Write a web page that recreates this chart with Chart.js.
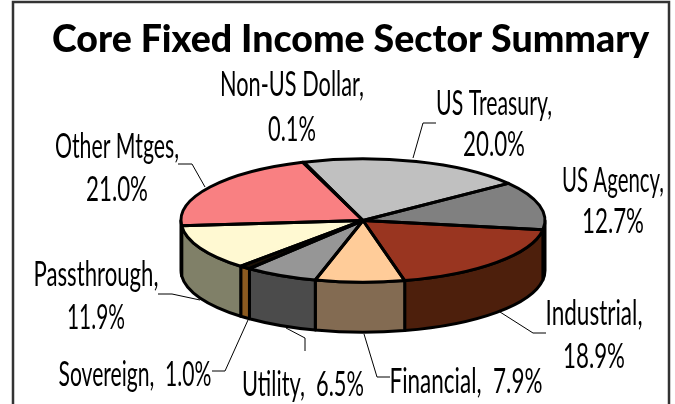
<!DOCTYPE html>
<html>
<head>
<meta charset="utf-8">
<style>html,body{margin:0;padding:0;background:#fff;overflow:hidden}canvas{display:block}</style>
<script src="https://cdn.jsdelivr.net/npm/chart.js@4"></script>
</head>
<body>
<canvas id="c" width="675" height="404"></canvas>
<script>
const chartTitle = 'Core Fixed Income Sector Summary';
const categories = ['US Treasury','US Agency','Industrial','Financial','Utility','Sovereign','Passthrough','Other Mtges','Non-US Dollar'];
const values = [20.0,12.7,18.9,7.9,6.5,1.0,11.9,21.0,0.1];
const topColors = ['#C0C0C0','#808080','#993520','#FFCC99','#969696','#1A1006','#FFF9D2','#F98082','#A0A0A0'];
const wallColors = ['#606060','#404040','#4D1F0C','#836B52','#4B4B4B','#8B5A20','#808068','#7C4041','#505050'];

// Annotation layout, per category: text box centre x, widths, line centre ys, leader polyline
const labelLayout = [
  {cx:494, w:[116,62],  y:[104,145], leader:[[413,158],[423,123],[436,123]]},
  {cx:613, w:[102,62],  y:[181,222], leader:null},
  {cx:594, w:[97,62],   y:[314,357], leader:[[500,312],[533,333],[546,333]]},
  {cx:466, w:[153],     y:[382],     leader:[[364,334],[377,377],[390,377]]},
  {cx:303, w:[122],     y:[385],     leader:[[286,328],[305,338],[305,351]]},
  {cx:135, w:[153],     y:[375],     leader:[[248,320],[225,371],[212,371]]},
  {cx:96,  w:[125,58],  y:[275,318], leader:[[200,300],[172,294],[158,294]]},
  {cx:117, w:[124,62],  y:[147,190], leader:[[205,187],[192,164],[178,164]]},
  {cx:292, w:[144,48],  y:[85,130],  leader:null}
];
const squash = 0.339, depth = 50, frame = {l:13,t:2,r:669,b:420};

const pie3d = {
  id:'pie3d',
  beforeDraw(chart){
    const c = chart.ctx;
    c.save();
    c.strokeStyle = '#333';
    c.lineWidth = 2.5;
    c.strokeRect(frame.l,frame.t,frame.r-frame.l,frame.b-frame.t);
    c.restore();
  },
  beforeDatasetsDraw(chart){
    const c = chart.ctx, arcs = chart.getDatasetMeta(0).data;
    c.save();
    c.lineJoin = 'round';
    c.lineWidth = 3;
    c.strokeStyle = '#000';
    arcs.forEach((arc,i)=>{
      const a = Math.max(norm(arc.startAngle),0), b = Math.min(norm(arc.startAngle)+(arc.endAngle-arc.startAngle),Math.PI);
      if (b <= a) return;
      const r = arc.outerRadius;
      c.beginPath();
      c.ellipse(arc.x,arc.y,r,r*squash,0,a,b);
      c.ellipse(arc.x,arc.y+depth,r,r*squash,0,b,a,true);
      c.closePath();
      c.fillStyle = wallColors[i];
      c.fill();
      c.stroke();
    });
    c.restore();
    // library draws the pie faces inside this squash
    const p = arcs[0];
    c.save();
    c.translate(p.x,p.y);
    c.scale(1,squash);
    c.translate(-p.x,-p.y);
  },
  afterDatasetsDraw(chart){
    const c = chart.ctx, arcs = chart.getDatasetMeta(0).data;
    c.restore();
    c.save();
    c.lineJoin = 'round';
    c.lineWidth = 3;
    c.strokeStyle = '#000';
    arcs.forEach(arc=>{
      const r = arc.outerRadius;
      c.beginPath();
      c.moveTo(arc.x,arc.y);
      c.ellipse(arc.x,arc.y,r,r*squash,0,arc.startAngle,arc.endAngle);
      c.closePath();
      c.stroke();
    });
    // leader lines
    c.lineWidth = 1;
    labelLayout.forEach(l=>{
      if(!l.leader) return;
      c.beginPath();
      l.leader.forEach((pt,k)=> k?c.lineTo(pt[0],pt[1]):c.moveTo(pt[0],pt[1]));
      c.stroke();
    });
    // data labels
    c.fillStyle = '#000';
    c.textAlign = 'center';
    c.textBaseline = 'middle';
    c.font = '34px Lato';
    labelLayout.forEach((l,i)=>{
      const pct = values[i].toFixed(1)+'%', name = categories[i]+',';
      const lines = l.y.length === 2 ? [name,pct] : [name+'  '+pct];
      lines.forEach((t,k)=>{
        const m = c.measureText(t).width;
        c.save();
        c.translate(l.cx,l.y[k]);
        c.scale(l.w[k]/m,1);
        c.fillText(t,0,0);
        c.restore();
      });
    });
    c.restore();
  }
};
function norm(a){ // normalise so the start angle lies in [-PI, PI)
  const t = Math.PI*2;
  return ((a+Math.PI)%t+t)%t-Math.PI;
}

new Chart(document.getElementById('c'),{
  type:'pie',
  data:{labels:categories,datasets:[{data:values,backgroundColor:topColors,borderWidth:0,clip:false}]},
  options:{
    responsive:false,
    animation:false,
    rotation:-19,
    radius:182,
    layout:{padding:{top:17,left:52,right:1,bottom:25}},
    events:[],
    plugins:{
      legend:{display:false},
      tooltip:{enabled:false},
      title:{display:true,text:chartTitle,align:'start',color:'#000',padding:0,font:{family:'Lato',weight:'900',size:37.5}}
    }
  },
  plugins:[pie3d]
});
</script>
</body>
</html>
